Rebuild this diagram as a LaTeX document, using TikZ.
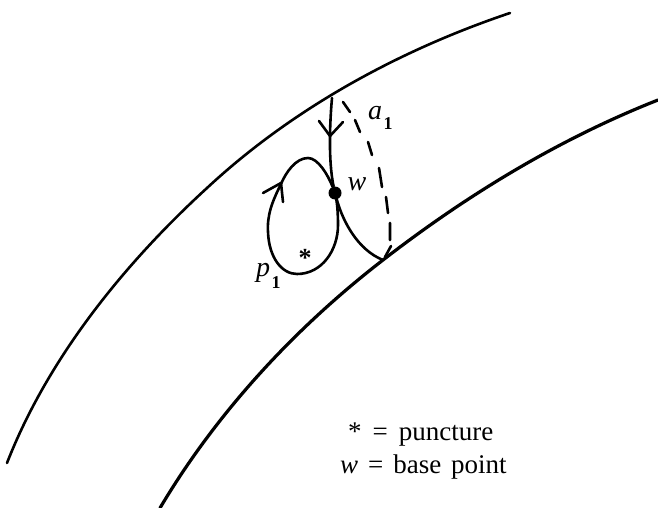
\documentclass[tikz,border=0pt]{standalone}
\usepackage{fontspec}
\setmainfont{Liberation Serif}
\tikzset{
 curve/.style={line width=2.6pt,line cap=round,line join=round},
 lab/.style={font=\fontsize{28}{30}\selectfont\itshape,inner sep=0pt},
 sub/.style={font=\fontsize{18}{20}\selectfont\bfseries,inner sep=0pt},
 legend/.style={font=\fontsize{27}{30}\selectfont,inner sep=0pt,anchor=base west}
}
\begin{document}
\begin{tikzpicture}[x=1pt,y=-1pt]
\useasboundingbox (0,0) rectangle (658,508);
% boundaries
\draw[curve] (7,463) .. controls (48,358) and (124,264) .. (207,188) .. controls (293,108) and (400,50) .. (510,13);
\draw[curve,line width=3.2pt] (160,508) .. controls (217,412) and (295,328) .. (383,260) .. controls (467,195) and (559,139) .. (658,100);
\node[circle,fill=black,inner sep=0pt,minimum size=13pt] (w) at (335,193) {};
\coordinate (top) at (332,98);
\coordinate (foot) at (383,260);
% stem
\draw[curve] (top) .. controls (330,120) and (328,160) .. (w);
\draw[curve] (w) .. controls (343,222) and (358,250) .. (foot);
% loop
\draw[curve] (w) .. controls (328,175) and (318,158) .. (308,158)
 .. controls (296,158) and (286,172) .. (281,184)
 .. controls (272,202) and (267,215) .. (268,232)
 .. controls (269,258) and (282,274) .. (297,274)
 .. controls (322,274) and (338,250) .. (338,225)
 .. controls (338,212) and (337,203) .. (w);
% arrowheads
\draw[curve] (319,121) -- (330,136) -- (343,122);
\draw[curve] (263,193) -- (281,183) -- (283,202);
% dashed
\draw[curve] (343,102) -- (350,112) (355,120) -- (360,132) (368,142) -- (372,155) (379,168) -- (382,187) (386,197) -- (388,213) (390,223) -- (390,240) (391,246) -- (385,257);
\node[lab] (a) at (375,113) {a};
\node[sub] (a1) at (388,124) {1};
\node[lab] (wl) at (357,184) {w};
\node[lab] (p) at (263,273) {p};
\node[sub] (p1) at (276,283) {1};
\node[font=\fontsize{26}{26}\selectfont\bfseries,inner sep=0pt] (st) at (305,258) {*};
\node[legend] (l1) at (348,440) {*\hspace{11pt}=\hspace{11pt}puncture};
\node[legend] (l2) at (340,473) {\textit{w}\hspace{10pt}=\hspace{10pt}base\hspace{3pt} point};
\end{tikzpicture}
\end{document}
